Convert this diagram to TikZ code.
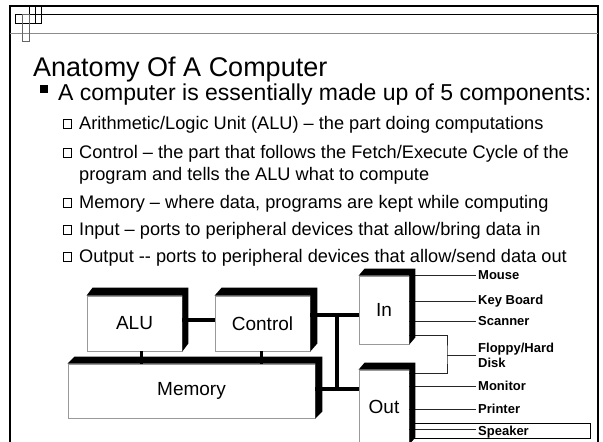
\documentclass[tikz,border=0pt]{standalone}
\usepackage{fontspec}
\setmainfont{Liberation Sans}
\usetikzlibrary{calc,positioning}

\begin{document}
\begin{tikzpicture}[x=1pt,y=-1pt,
	unit/.style={draw=black!40,fill=white,line width=0.8pt,inner sep=0pt,font=\fontsize{19}{19}\selectfont},
	bus/.style={line width=3.5pt},
	wire/.style={black!85,line width=0.8pt,shorten >=2pt},
	device/.style={anchor=west,inner sep=0pt,align=left,font=\bfseries\fontsize{13}{15}\selectfont},
	subitem/.style={anchor=base west,inner sep=0pt,font=\fontsize{18.2}{18.2}\selectfont},]

	\clip (0,0) rectangle (603,442);

	% slide frame and header band
	\draw[line width=1.6pt] (10,442) -- (10,6) -- (598,6) -- (598,442);
	\draw[line width=0.8pt] (15,14) -- (598,14);
	\draw[black!45,line width=0.8pt] (10,33) -- (598,33);
	\draw[line width=0.7pt] (15,14) rectangle (29,23) (29,6) rectangle (35,23) (35,6) rectangle (41,23);
	\draw[black!60,line width=0.7pt] (22,14) rectangle (29,41);

	% text
	\node[anchor=base west,inner sep=0pt,font=\fontsize{27}{28}\selectfont] (title) at (33,76) {Anatomy Of A Computer};
	\fill (40,85) rectangle (48,93);
	\node[anchor=base west,inner sep=0pt,font=\fontsize{23}{23}\selectfont] (intro) at (58,100) {A computer is essentially made up of 5 components:};
	\node[subitem] (t1) at (79,129) {Arithmetic/Logic Unit (ALU) – the part doing computations};
	\node[subitem] (t2) at (79,158) {Control – the part that follows the Fetch/Execute Cycle of the};
	\node[subitem] (t2b) at (79,180) {program and tells the ALU what to compute};
	\node[subitem] (t3) at (79,208) {Memory – where data, programs are kept while computing};
	\node[subitem] (t4) at (79,235) {Input – ports to peripheral devices that allow/bring data in};
	\node[subitem] (t5) at (79,262) {Output -{}- ports to peripheral devices that allow/send data out};
	\foreach \b in {129,158,208,235,262}
		\draw[line width=0.6pt] (63,\b-9.5) rectangle ++(8.5,8.5);

	% the five units
	\node[unit,minimum width=95pt,minimum height=55pt] (alu) at (134.5,323.5) {ALU};
	\node[unit,minimum width=95pt,minimum height=55pt] (ctrl) at (262.5,323.5) {Control};
	\node[unit,minimum width=247pt,minimum height=54pt] (mem) at (191.5,391) {Memory};
	\node[unit,minimum width=50pt,minimum height=68pt] (in) at (384,310) {In};
	\node[unit,minimum width=50pt,minimum height=74pt] (out) at (384,407) {Out};

	% devices
	\node[device] (mouse) at (478,275) {Mouse};
	\node[device] (keyb) at (478,301) {Key Board};
	\node[device] (scan) at (478,321) {Scanner};
	\node[device] (disk) at (478,355) {Floppy/Hard\\Disk};
	\node[device] (mon) at (478,386) {Monitor};
	\node[device] (prn) at (478,409) {Printer};
	\node[device] (spk) at (478,432) {Speaker};

	% buses
	\coordinate (tap) at (337,315);
	\coordinate (tapout) at (337,389);
	\draw[bus] ([yshift=3.5pt]alu.east) -- ([yshift=3.5pt]ctrl.west);
	\draw[bus] (tap -| ctrl.east) -- (tap -| in.west);
	\draw[bus] (tap) -- (tapout);
	\draw[bus] (tapout -| mem.east) -- (tapout -| out.west);
	\draw[bus] ([xshift=7pt]alu.south) -- ([xshift=7pt]alu.south |- mem.north);
	\draw[bus] ([xshift=-1pt]ctrl.south) -- ([xshift=-1pt]ctrl.south |- mem.north);

	% device lines
	\foreach \d in {mouse,keyb,scan}
		\draw[wire] (in.east |- \d.west) -- (\d.west);
	\foreach \d in {mon,prn}
		\draw[wire] (out.east |- \d.west) -- (\d.west);
	\draw[wire] ([yshift=3pt]spk.west -| out.east) -- ([yshift=3pt]spk.west);
	\coordinate (fork) at (447,355);
	\draw[wire,shorten >=0pt] (in.east |- 0,335) -| (fork) |- (out.east |- 0,373);
	\draw[wire] (fork) -- (disk.west);
	\draw[line width=0.6pt] (413,423) rectangle (590,438);

	% black top and side faces
	\foreach \n/\dx/\dy in {alu/6/8,ctrl/7/8,mem/7/7,in/6/7,out/6/7}
		\fill (\n.north west) -- ++(\dx,-\dy) -| ($(\n.south east)+(\dx,-\dy)$) -- (\n.south east) -- (\n.north east) -- cycle;
\end{tikzpicture}
\end{document}
